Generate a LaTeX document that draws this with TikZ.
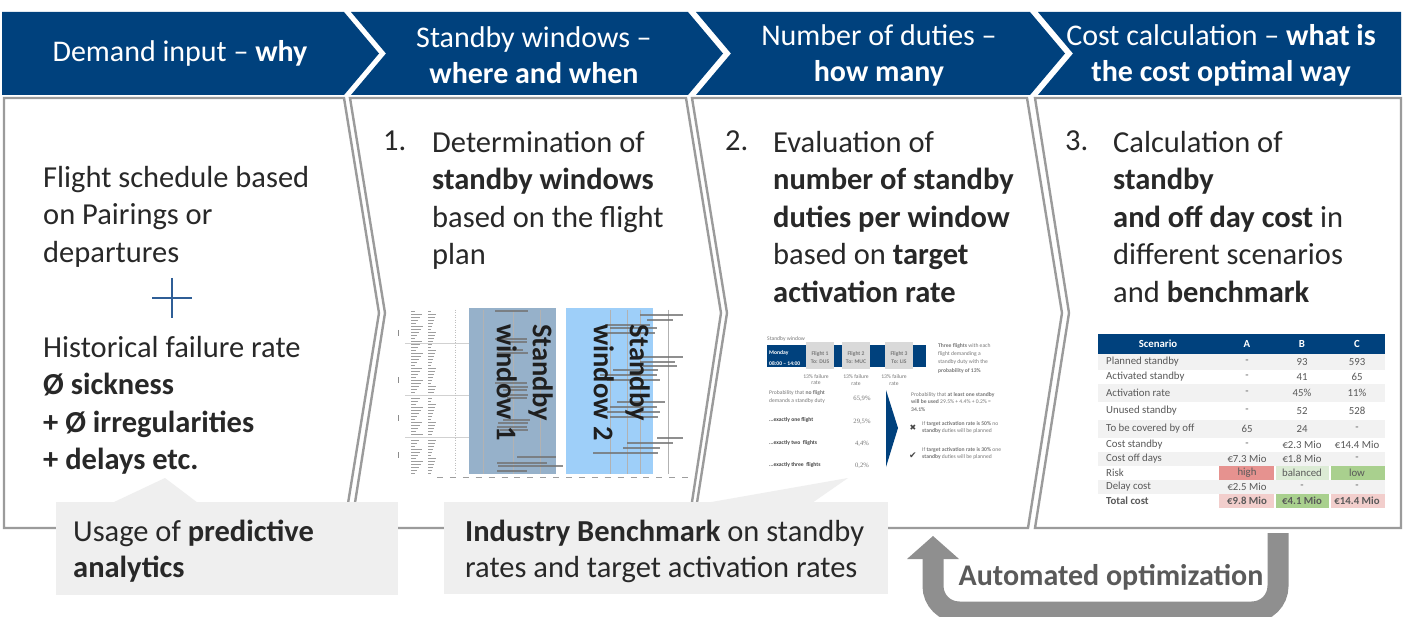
\documentclass[tikz,border=0pt]{standalone}
\usepackage{fontspec}
\setmainfont{Carlito}
\newfontfamily\symfont{DejaVu Sans}
\newfontfamily\numfont{Liberation Serif}
\usetikzlibrary{calc}

\definecolor{hdrblue}{RGB}{0,65,125}
\definecolor{panelgray}{RGB}{155,155,155}
\definecolor{bodytext}{RGB}{40,40,40}
\definecolor{callfill}{RGB}{239,239,239}
\definecolor{arrowgray}{RGB}{143,143,143}
\definecolor{opttext}{RGB}{90,90,90}
\definecolor{win1}{RGB}{150,177,202}
\definecolor{win2}{RGB}{158,207,249}
\definecolor{smallgray}{RGB}{120,120,120}
\definecolor{smalldark}{RGB}{70,70,70}
\definecolor{tabtext}{RGB}{89,89,89}
\definecolor{rowgray}{RGB}{242,242,242}
\definecolor{riskhigh}{RGB}{230,146,143}
\definecolor{riskbal}{RGB}{220,235,213}
\definecolor{risklow}{RGB}{169,208,142}
\definecolor{costpink}{RGB}{242,206,204}
\definecolor{plusblue}{RGB}{47,94,150}
\definecolor{flightbox}{RGB}{217,217,217}

\tikzset{
  hdrtext/.style={text=white, font=\fontsize{30}{36}\selectfont, align=center, inner sep=0},
  panel/.style={draw=panelgray, line width=2.4pt, fill=white, line join=miter},
  body/.style={text=bodytext, font=\fontsize{30.5}{37.5}\selectfont, align=left, anchor=north west, inner sep=0},
  calltext/.style={text=bodytext, font=\fontsize{30.5}{36}\selectfont, align=left, anchor=north west, inner sep=0},
  tiny/.style={font=\fontsize{5.6}{7.6}\selectfont, inner sep=0, anchor=west, text=smallgray, align=left},
  tinyc/.style={font=\fontsize{5.6}{6.4}\selectfont, inner sep=0, text=smallgray, align=center},
  pct/.style={font=\numfont\fontsize{6.6}{8}\selectfont, inner sep=0, text=smallgray},
  tab/.style={font=\fontsize{10.8}{12}\selectfont, text=tabtext, inner sep=0},
  tabhead/.style={font=\bfseries\fontsize{10.8}{12}\selectfont, text=white, inner sep=0},
  winlabel/.style={rotate=-90, anchor=north west, align=left, inner sep=0,
    font=\bfseries\fontsize{28.5}{36}\selectfont, text=black!88},
  bar/.style={black!55, line width=1.6pt, opacity=0.8},
}

\begin{document}
\begin{tikzpicture}[x=1pt,y=-1pt]
\useasboundingbox (0,0) rectangle (1405,617);

% ---------- header chevrons ----------
\fill[hdrblue] (2,12) -- (344,12) -- (379,53.5) -- (344,95) -- (2,95) -- cycle;
\fill[hdrblue] (351,12) -- (688,12) -- (723,53.5) -- (688,95) -- (351,95) -- (386,53.5) -- cycle;
\fill[hdrblue] (696,12) -- (1030,12) -- (1065,53.5) -- (1030,95) -- (696,95) -- (731,53.5) -- cycle;
\fill[hdrblue] (1038,12) -- (1401,12) -- (1401,95) -- (1038,95) -- (1073,53.5) -- cycle;

\node[hdrtext] (h1) at (180,53) {Demand input – \textbf{why}};
\node[hdrtext] (h2) at (534,55) {Standby windows –\\\textbf{where and when}};
\node[hdrtext] (h3) at (879,55) {Number of duties –\\\textbf{how many}};
\node[hdrtext] (h4) at (1221,55) {Cost calculation – \textbf{what is}\\\textbf{the cost optimal way}};

% ---------- body panels ----------
\draw[panel] (4,98) -- (344,98) -- (379,313) -- (344,528) -- (4,528) -- cycle;
\draw[panel] (350,98) -- (686,98) -- (721,313) -- (688,528) -- (351,528) -- (385,313) -- cycle;
\draw[panel] (692,98) -- (1027,98) -- (1062,313) -- (1028,528) -- (693,528) -- (727,313) -- cycle;
\draw[panel] (1035,98) -- (1401,98) -- (1401,528) -- (1035,528) -- (1069,313) -- cycle;

% ---------- column 1: demand input ----------
\node[body] (sched) at (43,166) {Flight schedule based\\on Pairings or\\departures};
\draw[plusblue, line width=2.2pt] (152,298) -- (192,298) (172,278) -- (172,318);
\node[body] (failure) at (43,336) {Historical failure rate\\\textbf{Ø sickness}\\\textbf{+ Ø irregularities}\\\textbf{+ delays etc.}};

% ---------- column 2: standby windows ----------
\node[body] (n1) at (383,131) {1.};
\node[body] (step1) at (432,131) {Determination of\\\textbf{standby windows}\\based on the flight\\plan};

% flight plan chart
\foreach \i in {0,...,54} {
  \pgfmathsetmacro\yy{311+3*\i}
  \pgfmathsetmacro\la{4+mod(\i*7,9)}
  \pgfmathsetmacro\lb{3+mod(\i*5,6)}
  \draw[black!38, line width=0.7pt] (411,\yy) -- ++(\la,0);
  \draw[black!38, line width=0.7pt] (428,\yy) -- ++(\lb,0);
}
\foreach \y in {333,380,418,455} \draw[black!45, line width=0.8pt] (398,\y-3) -- (398,\y+3);
\foreach \y in {343,395,437} \draw[black!18, line width=0.5pt] (405,\y) -- (470,\y);
\draw[black!25, line width=0.5pt, dotted] (455,310) -- (455,474);
\fill[win1] (469,308) rectangle (556,474);
\fill[win2] (566,308) rectangle (653,474);
\foreach \x in {483,513,540,610,627,640,668}
  \draw[black!30, line width=0.5pt] (\x,310) -- (\x,474);
\foreach \a/\b/\y in {
  495/528/311, 495/527/339, 507/527/342, 498/523/350, 497/528/353,
  495/527/383, 500/528/387, 503/527/390, 500/528/395, 507/527/398,
  503/530/420, 498/528/423, 497/527/427, 500/528/430,
  517/556/457, 497/547/463, 498/563/466, 497/527/471,
  640/683/315, 647/673/320, 605/650/325, 610/657/328, 600/655/333,
  643/683/357, 640/675/362, 643/677/366, 613/658/370, 600/657/375, 607/660/380,
  617/665/402, 610/657/407, 607/660/412, 610/658/417,
  657/683/438, 627/673/443, 623/660/448, 593/658/453}
  \draw[bar] (\a,\y) -- (\b,\y);
\foreach \i in {0,...,19}
  \draw[black!38, line width=0.8pt] (437+12.9*\i,477.5) -- ++(6,0);
\node[winlabel] (sw1) at (553,324) {Standby\\window 1};
\node[winlabel] (sw2) at (650,324) {Standby\\window 2};

% ---------- column 3: number of duties ----------
\node[body] (n2) at (725,131) {2.};
\node[body] (step2) at (773,131) {Evaluation of\\\textbf{number of standby}\\\textbf{duties per window}\\based on \textbf{target}\\\textbf{activation rate}};

% standby window example
\node[tiny] (swtitle) at (767,339) {Standby window};
\fill[hdrblue] (767,345) rectangle (926,367);
\node[tiny, text=white, font=\bfseries\fontsize{5.6}{7}\selectfont] (mon) at (769,352.5) {Monday};
\node[tiny, text=white, font=\bfseries\fontsize{5.6}{7}\selectfont] (time) at (769,363.5) {08:00 – 14:00};
\fill[flightbox] (806,342) rectangle (834,369);
\fill[flightbox] (842,342) rectangle (870,369);
\fill[flightbox] (885,342) rectangle (913,369);
\node[tinyc, font=\bfseries\fontsize{5.6}{7.4}\selectfont] (f1) at (820,357.5) {Flight 1\\To: DUS};
\node[tinyc, font=\bfseries\fontsize{5.6}{7.4}\selectfont] (f2) at (856,357.5) {Flight 2\\To: MUC};
\node[tinyc, font=\bfseries\fontsize{5.6}{7.4}\selectfont] (f3) at (899,357.5) {Flight 3\\To: LIS};
\node[tinyc] (r1) at (816,379.5) {13\% failure\\rate};
\node[tinyc] (r2) at (856,380) {13\% failure\\rate};
\node[tinyc] (r3) at (894,380) {13\% failure\\rate};
\node[tiny, anchor=north west, font=\fontsize{5.6}{8.4}\selectfont] (three) at (938,343)
  {\textbf{Three flights} with each\\flight demanding a\\standby duty with the\\\textbf{probability of 13\%}};

\node[tiny, anchor=north west, font=\fontsize{5.6}{8.8}\selectfont] (p0) at (769,390) {Probability that \textbf{no flight}\\demands a standby duty};
\node[tiny, text=smalldark, font=\bfseries\fontsize{5.6}{7}\selectfont] (p1) at (769,420) {...exactly one flight};
\node[tiny, text=smalldark, font=\bfseries\fontsize{5.6}{7}\selectfont] (p2) at (769,443) {...exactly two\ \ flights};
\node[tiny, text=smalldark, font=\bfseries\fontsize{5.6}{7}\selectfont] (p3) at (769,465) {...exactly three\ \ flights};
\node[pct] (v0) at (862,399) {65,9\%};
\node[pct] (v1) at (862,422) {29,5\%};
\node[pct] (v2) at (862,444) {4,4\%};
\node[pct] (v3) at (862,466) {0,2\%};
\fill[hdrblue] (886,390) -- (898,428) -- (886,467) -- cycle;

\node[tiny, anchor=north west, font=\fontsize{5.6}{7.6}\selectfont] (atleast) at (911,392)
  {Probability that \textbf{at least one standby}\\\textbf{will be used} 29.5\% + 4.4\% + 0.2\% =\\\textbf{34.1\%}};
\node[inner sep=0, text=smalldark, font=\symfont\fontsize{8}{8}\selectfont] (cross) at (913,428) {✖};
\node[tiny, anchor=north west, font=\fontsize{5.6}{7.6}\selectfont] (no) at (922,421)
  {If \textbf{target activation rate is 50\%} no\\\textbf{standby} duties will be planned};
\node[inner sep=0, text=smalldark, font=\symfont\fontsize{9}{9}\selectfont] (tick) at (913,456) {✔};
\node[tiny, anchor=north west, font=\fontsize{5.6}{7.6}\selectfont] (yes) at (922,447)
  {If \textbf{target activation rate is 30\%} one\\\textbf{standby} duties will be planned};

% ---------- column 4: cost calculation ----------
\node[body] (n3) at (1065,131) {3.};
\node[body] (step3) at (1113,131) {Calculation of\\\textbf{standby}\\\textbf{and off day cost} in\\different scenarios\\and \textbf{benchmark}};

% scenario table
\fill[hdrblue] (1098,334) rectangle (1385,354);
\node[tabhead] (thS) at (1158,344) {Scenario};
\node[tabhead] (thA) at (1247,344) {A};
\node[tabhead] (thB) at (1302,344) {B};
\node[tabhead] (thC) at (1357,344) {C};
\foreach \y/\h [count=\i] in {354/16,370/14,384/18,402/18,420/18,438/14,452/14,466/14,480/14,494/14} {
  \ifodd\i \fill[rowgray] (1098,\y) rectangle (1385,\y+\h); \fi
}
\fill[riskhigh] (1219,466) rectangle (1274,480);
\fill[riskbal] (1276,466) rectangle (1329,480);
\fill[risklow] (1331,466) rectangle (1385,480);
\fill[costpink] (1219,494) rectangle (1274,508);
\fill[risklow] (1276,494) rectangle (1329,508);
\fill[costpink] (1331,494) rectangle (1385,508);
\foreach \yc/\lab/\a/\b/\c [count=\i] in {
  362/Planned standby/-/93/593,
  377/Activated standby/-/41/65,
  393/Activation rate/-/45\%/11\%,
  411/Unused standby/-/52/528,
  429/To be covered by off/65/24/-,
  445/Cost standby/-/€2.3 Mio/€14.4 Mio,
  459/Cost off days/€7.3 Mio/€1.8 Mio/-,
  473/Risk/high/balanced/low,
  487/Delay cost/€2.5 Mio/-/-} {
  \node[tab, anchor=west] (lab\i) at (1106,\yc) {\lab};
  \node[tab] (ca\i) at (1247,\yc) {\a};
  \node[tab] (cb\i) at (1302,\yc) {\b};
  \node[tab] (cc\i) at (1357,\yc) {\c};
}
\node[tab, anchor=west, font=\bfseries\fontsize{10.8}{12}\selectfont] (labT) at (1106,501) {Total cost};
\node[tab, font=\bfseries\fontsize{10.8}{12}\selectfont] (caT) at (1247,501) {€9.8 Mio};
\node[tab, font=\bfseries\fontsize{10.8}{12}\selectfont] (cbT) at (1302,501) {€4.1 Mio};
\node[tab, font=\bfseries\fontsize{10.8}{12}\selectfont] (ccT) at (1357,501) {€14.4 Mio};

% ---------- callouts ----------
\fill[callfill] (56,502) rectangle (398,595);
\fill[callfill] (112,503) -- (165,478) -- (198,503) -- cycle;
\node[calltext] (predict) at (73,520) {Usage of \textbf{predictive}\\\textbf{analytics}};

\fill[callfill] (444,502) rectangle (888,594);
\fill[callfill] (700,504) -- (848,478) -- (812,503) -- cycle;
\node[calltext] (bench) at (465,520) {\textbf{Industry Benchmark} on standby\\rates and target activation rates};

% ---------- optimisation loop ----------
\coordinate (optStart) at (1278,533);
\coordinate (optTip) at (933,536);
\draw[arrowgray, line width=21pt, rounded corners=26pt] (optStart) -- (1278,612) -- (933,612) -- (933,556);
\fill[arrowgray] (907,559) -- (optTip) -- (959,559) -- cycle;
\node[inner sep=0, text=opttext, font=\bfseries\fontsize{30}{36}\selectfont] (opt) at (1111,577) {Automated optimization};

\end{tikzpicture}
\end{document}
